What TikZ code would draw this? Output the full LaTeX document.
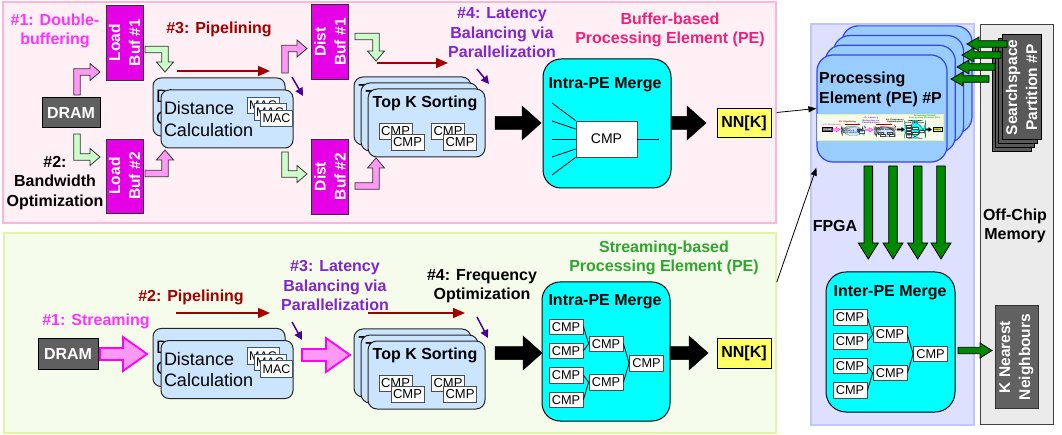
\documentclass[tikz,border=0pt]{standalone}
\usepackage{fontspec}
\setmainfont{Liberation Sans}
\usetikzlibrary{arrows.meta,calc}
\definecolor{pinkbg}{HTML}{FFF0F5}
\definecolor{pinkbd}{HTML}{FFB6D5}
\definecolor{greenbg}{HTML}{F6FCEB}
\definecolor{greenbd}{HTML}{E2F5A5}
\definecolor{mag}{HTML}{E600E6}
\definecolor{magline}{HTML}{FF00FF}
\definecolor{cyanfill}{HTML}{00FFFF}
\definecolor{magtxt}{HTML}{FF33FF}
\definecolor{pinkfill}{HTML}{FF99F5}
\definecolor{lgreen}{HTML}{CCFFCC}
\definecolor{cardblue}{HTML}{CCE5FF}
\definecolor{dramgray}{HTML}{5F5F5F}
\definecolor{darkred}{HTML}{A00000}
\definecolor{purptxt}{HTML}{7F26CC}
\definecolor{purpdark}{HTML}{4B0096}
\definecolor{titlepink}{HTML}{F0207A}
\definecolor{titlegreen}{HTML}{2EA62E}
\definecolor{fpgabg}{HTML}{DDE1FF}
\definecolor{fpgabd}{HTML}{BFC6FA}
\definecolor{pebg}{HTML}{99CCFF}
\definecolor{pebd}{HTML}{3344EE}
\definecolor{dgreen}{HTML}{008A00}
\definecolor{offchipbg}{HTML}{EBEBEB}
\definecolor{ssgray}{HTML}{595959}
\definecolor{nnyellow}{HTML}{FFFF66}
\definecolor{macbd}{HTML}{3C5A78}
\newcommand\lwf{1}
\tikzset{
  lbl/.style={font=\bfseries\fontsize{16}{19.5}\selectfont, align=center, inner sep=0pt},
  card/.style={draw=black!85, fill=cardblue, rounded corners=8pt, line width={1pt*\lwf}, inner sep=0pt},
  dccard/.style={card, minimum height=58pt, text width=126pt, inner xsep=3pt, align=left, font=\fontsize{18}{21.5}\selectfont},
  tkcard/.style={card, rounded corners=9pt, minimum width=117pt, minimum height=68pt},
  macbox/.style={draw=macbd, fill=white, line width={0.9pt*\lwf}, minimum width=32pt, minimum height=16.5pt, inner sep=0pt, font=\fontsize{12.5}{14}\selectfont},
  cmp/.style={draw=black!70, fill=white, line width={0.8pt*\lwf}, minimum width=33pt, minimum height=16pt, inner sep=0pt, font=\fontsize{13}{14}\selectfont},
  scmp/.style={cmp, minimum width=34pt, minimum height=15.5pt, font=\fontsize{12.75}{14}\selectfont},
  dram/.style={draw=black, fill=dramgray, text=white, font=\bfseries\fontsize{16}{19}\selectfont, minimum width=58pt, minimum height=30pt, inner sep=0pt, line width={1pt*\lwf}},
  buf/.style={draw=black!80, fill=mag, text=white, font=\bfseries\fontsize{15.5}{20}\selectfont, rotate=90, align=center, minimum width=75pt, minimum height=37pt, inner sep=0pt, line width=0.8pt},
  merge/.style={draw=black, fill=cyanfill, rounded corners=18pt, line width={1pt*\lwf}, inner sep=0pt},
  nn/.style={draw=black, fill=nnyellow, font=\bfseries\fontsize{16}{19}\selectfont, minimum width=54pt, minimum height=29pt, inner sep=0pt, line width={1pt*\lwf}},
  pinkarr/.style={draw=black!80, fill=pinkfill, line width=0.8pt},
  greenarr/.style={draw=black!80, fill=lgreen, line width=0.8pt},
  pinkarrS/.style={draw=magline, fill=pinkfill, line width={1.8pt*\lwf}},
  blackarr/.style={fill=black, draw=black, line width={0.5pt*\lwf}},
  greenD/.style={fill=dgreen, draw=black, line width=0.8pt},
  redarr/.style={draw=darkred, line width={1.8pt*\lwf}, -{Triangle[length=12pt,width=10pt,scale=\lwf]}},
  purpa/.style={draw=purpdark, line width={1.5pt*\lwf}, -{Triangle[length=8pt,width=8pt,scale=\lwf]}},
  thinarr/.style={draw=black, line width=0.8pt, -{Triangle[length=8pt,width=6pt]}},
  cline/.style={draw=black, line width={0.8pt*\lwf}},
  pecardst/.style={draw=pebd, fill=pebg, line width=1.2pt, rounded corners=16pt, minimum width=130pt, minimum height=107pt, inner sep=0pt},
  sscard/.style={draw=black, fill=ssgray, line width=1pt, rotate=90, minimum width=105pt, minimum height=39pt, inner sep=0pt, text=white, align=center, font=\bfseries\fontsize{15.5}{20}\selectfont},
}
% straight block arrows: style, tail, tip, axis, shaft half, head half, head length
\newcommand\arrR[7]{\draw[#1] (#2,{#4-#5}) -- ({#3-#7},{#4-#5}) -- ({#3-#7},{#4-#6}) -- (#3,#4) -- ({#3-#7},{#4+#6}) -- ({#3-#7},{#4+#5}) -- (#2,{#4+#5}) -- cycle;}
\newcommand\arrL[7]{\draw[#1] (#2,{#4-#5}) -- ({#3+#7},{#4-#5}) -- ({#3+#7},{#4-#6}) -- (#3,#4) -- ({#3+#7},{#4+#6}) -- ({#3+#7},{#4+#5}) -- (#2,{#4+#5}) -- cycle;}
\newcommand\arrD[7]{\draw[#1] ({#4-#5},#2) -- ({#4-#5},{#3-#7}) -- ({#4-#6},{#3-#7}) -- (#4,#3) -- ({#4+#6},{#3-#7}) -- ({#4+#5},{#3-#7}) -- ({#4+#5},#2) -- cycle;}
% bent block arrows
\newcommand\bUR[5]{\draw[#1] ({#2-3.2},#3) -- ({#2-3.2},{#4-3.2}) -- ({#5-10},{#4-3.2}) -- ({#5-10},{#4-8.5}) -- (#5,#4) -- ({#5-10},{#4+8.5}) -- ({#5-10},{#4+3.2}) -- ({#2+3.2},{#4+3.2}) -- ({#2+3.2},#3) -- cycle;}
\newcommand\bDR[5]{\draw[#1] ({#2-3.2},#3) -- ({#2-3.2},{#4+3.2}) -- ({#5-10},{#4+3.2}) -- ({#5-10},{#4+8.5}) -- (#5,#4) -- ({#5-10},{#4-8.5}) -- ({#5-10},{#4-3.2}) -- ({#2+3.2},{#4-3.2}) -- ({#2+3.2},#3) -- cycle;}
\newcommand\bRD[5]{\draw[#1] (#3,{#2-3.2}) -- ({#4+3.2},{#2-3.2}) -- ({#4+3.2},{#5-10}) -- ({#4+8.5},{#5-10}) -- (#4,#5) -- ({#4-8.5},{#5-10}) -- ({#4-3.2},{#5-10}) -- ({#4-3.2},{#2+3.2}) -- (#3,{#2+3.2}) -- cycle;}
\newcommand\bRU[5]{\draw[#1] (#3,{#2+3.2}) -- ({#4+3.2},{#2+3.2}) -- ({#4+3.2},{#5+10}) -- ({#4+8.5},{#5+10}) -- (#4,#5) -- ({#4-8.5},{#5+10}) -- ({#4-3.2},{#5+10}) -- ({#4-3.2},{#2-3.2}) -- (#3,{#2-3.2}) -- cycle;}
% distance calculation stack
\newcommand\dcstack[3]{%
  \node[dccard] (#1dcb) at ({#2-8},{#3-12}) {Distance\\Calculation};
  \node[dccard] (#1dc) at (#2,#3) {Distance\\Calculation};
  \node[macbox] (#1mac1) at ({#2+36},{#3-13.5}) {MAC};
  \node[macbox] (#1mac2) at ({#2+43},{#3-7}) {MAC};
  \node[macbox] (#1mac3) at ({#2+49.5},{#3-0.5}) {MAC};
}
% top k stack
\newcommand\topkstack[3]{%
  \node[tkcard] (#1tk3) at ({#2-14},{#3-12}) {};
  \node[lbl] (#1tk3t) at ({#2-15.5},{#3-31.5}) {Top K Sorting};
  \node[tkcard] (#1tk2) at ({#2-7},{#3-6}) {};
  \node[lbl] (#1tk2t) at ({#2-8.5},{#3-25.5}) {Top K Sorting};
  \node[tkcard] (#1tk1) at (#2,#3) {};
  \node[lbl] (#1tk1t) at ({#2-1.5},{#3-19.5}) {Top K Sorting};
  \node[cmp] (#1k1) at ({#2-31},{#3+8.5}) {CMP};
  \node[cmp] (#1k2) at ({#2-19},{#3+19.5}) {CMP};
  \node[cmp] (#1k3) at ({#2+21.5},{#3+8.5}) {CMP};
  \node[cmp] (#1k4) at ({#2+33.5},{#3+19.5}) {CMP};
}
% merge tree of CMPs
\newcommand\mergetree[3]{%
  \node[scmp] (#1a) at (#2,#3) {CMP};
  \node[scmp] (#1b) at (#2,{#3+24}) {CMP};
  \node[scmp] (#1c) at (#2,{#3+48.5}) {CMP};
  \node[scmp] (#1d) at (#2,{#3+73}) {CMP};
  \node[scmp] (#1e) at ({#2+40},{#3+17}) {CMP};
  \node[scmp] (#1f) at ({#2+40},{#3+55.5}) {CMP};
  \node[scmp] (#1g) at ({#2+80.5},{#3+36.5}) {CMP};
  \draw[cline] (#1a.east) -- (#1e.west);
  \draw[cline] (#1b.east) -- (#1e.west);
  \draw[cline] (#1c.east) -- (#1f.west);
  \draw[cline] (#1d.east) -- (#1f.west);
  \draw[cline] (#1e.east) -- (#1g.west);
  \draw[cline] (#1f.east) -- (#1g.west);
}
% streaming-based PE panel
\newcommand\streamPE[1]{%
  \node[draw=greenbd, fill=greenbg, line width={1.5pt*\lwf}, minimum width=772pt, minimum height=200pt, inner sep=0pt] (#1panel) at (390,333) {};
  \node[lbl, text=magtxt] (#1l1) at (96,321) {\#1: Streaming};
  \node[dram, minimum width=60pt, minimum height=31pt] (#1dram) at (68,353.5) {DRAM};
  \arrR{pinkarrS}{100}{147}{354}{6}{17}{24}
  \dcstack{#1}{227}{369.5}
  \node[lbl, text=darkred] (#1l2) at (191,297) {\#2: Pipelining};
  \draw[redarr] (176,313) -- (270,313);
  \node[lbl, text=purptxt] (#1l3) at (335,285.5) {\#3: Latency\\Balancing via\\Parallelization};
  \draw[purpa] (292,322) -- (302,340);
  \arrR{pinkarrS}{302}{350}{355}{6}{17}{24}
  \topkstack{#1}{426.5}{375}
  \draw[redarr] (368,313) -- (465,313);
  \draw[purpa] (477,317) -- (488,338);
  \node[lbl] (#1l4) at (482,286) {\#4: Frequency\\Optimization};
  \arrR{blackarr}{495}{542}{353}{6.5}{17}{19}
  \node[merge, minimum width=128pt, minimum height=139pt] (#1ipm) at (606,351.5) {};
  \node[lbl] (#1ipmt) at (605,302) {Intra-PE Merge};
  \mergetree{#1m}{566}{326.7}
  \arrR{blackarr}{670}{708}{353}{6.5}{17}{19}
  \node[nn, minimum height=30pt] (#1nn) at (744,353) {NN[K]};
  \node[lbl, text=titlegreen] (#1l5) at (664,258) {Streaming-based\\Processing Element (PE)};
}
\begin{document}
\begin{tikzpicture}[x=1pt,y=-1pt]
\useasboundingbox (0,0) rectangle (1062,435);
% ---------- panels ----------
\node[draw=pinkbd, fill=pinkbg, line width=1.5pt, minimum width=773pt, minimum height=221pt, inner sep=0pt] (bufpanel) at (389.5,112.5) {};
\node[draw=fpgabd, fill=fpgabg, line width=1.2pt, minimum width=163pt, minimum height=401pt, inner sep=0pt] (fpga) at (892.5,224.5) {};
\node[draw=black!75, fill=offchipbg, line width=1pt, minimum width=73pt, minimum height=399pt, inner sep=0pt] (offchip) at (1016.5,224.5) {};
% ---------- buffer-based PE ----------
\node[lbl, text=magtxt] (t1) at (55,31) {\#1: Double-\\buffering};
\node[dram] (dram1) at (71,113) {DRAM};
\node[buf] (lb1) at (124.5,42.5) {Load\\Buf \#1};
\node[buf, minimum width=74pt] (lb2) at (124.5,176) {Load\\Buf \#2};
\node[lbl] (t2) at (55,183) {\#2:\\Bandwidth\\Optimization};
\node[lbl, text=darkred] (t3) at (219,29) {\#3: Pipelining};
\draw[redarr] (177,71) -- (270,71);
\bUR{pinkarr}{77}{95}{72}{100}
\bDR{greenarr}{77}{134}{157}{100}
\bRD{greenarr}{49.5}{145}{165}{72}
\bRU{pinkarr}{173.5}{145}{165}{150}
\dcstack{a}{227}{119}
\bUR{pinkarr}{285}{73}{48.5}{307}
\bDR{greenarr}{285}{152}{174}{307}
\node[buf] (db1) at (330,42) {Dist\\Buf \#1};
\node[buf] (db2) at (330,176.5) {Dist\\Buf \#2};
\bRD{greenarr}{36.5}{355}{376}{61}
\bRU{pinkarr}{186}{355}{376}{158}
\draw[purpa] (292,77) -- (303,96);
\topkstack{a}{426.5}{123}
\draw[redarr] (377,63) -- (448,63);
\draw[purpa] (477,69) -- (489,84);
\node[lbl, text=purptxt] (t4) at (502,33) {\#4: Latency\\Balancing via\\Parallelization};
\arrR{blackarr}{495}{541}{123}{6.5}{17}{19}
\node[merge, minimum width=128pt, minimum height=129pt] (ipm1) at (607,123.5) {};
\node[lbl] (ipm1t) at (605,85) {Intra-PE Merge};
\node[cmp, minimum width=61pt, minimum height=36pt, font=\fontsize{14}{16}\selectfont] (bigcmp) at (606.5,139) {CMP};
\draw[cline] (552,103) -- (bigcmp.north west);
\draw[cline] (552,121) -- ($(bigcmp.west)+(0,-10)$);
\draw[cline] (552,139) -- (bigcmp.west);
\draw[cline] (552,157) -- ($(bigcmp.west)+(0,10)$);
\draw[cline] (552,175) -- (bigcmp.south west);
\draw[cline] (bigcmp.east) -- ++(22,0);
\arrR{blackarr}{671}{706}{123}{6.5}{17}{19}
\node[nn] (nn1) at (744,123.5) {NN[K]};
\node[lbl, text=titlepink] (t5) at (670,30) {Buffer-based\\Processing Element (PE)};
% ---------- streaming-based PE ----------
\streamPE{s}
% ---------- FPGA side ----------
\node[pecardst] (pe4) at (907,79.4) {};
\node[pecardst] (pe3) at (898.6,89.1) {};
\node[pecardst] (pe2) at (890.3,98.8) {};
\node[pecardst] (pe1) at (882,108.5) {};
\node[lbl, align=left, anchor=west] (petxt) at (819,89.5) {Processing\\Element (PE) \#P};
\begin{scope}[shift={(816.3,83.6)}, xscale=0.163, yscale=0.13, transform shape]
\renewcommand\lwf{0.15}
\streamPE{t}
\end{scope}
\node[sscard] (ss4) at (1011.5,99.5) {};
\node[sscard] (ss3) at (1014.8,95.5) {};
\node[sscard] (ss2) at (1018.1,91.5) {};
\node[sscard] (ss1) at (1021.5,87.5) {Searchspace\\Partition \#P};
\arrL{greenD}{1007}{967}{44}{3.3}{7}{12}
\arrL{greenD}{1001}{962}{55}{3.3}{7}{12}
\arrL{greenD}{995}{957}{67}{3.3}{7}{12}
\arrL{greenD}{989}{951}{79}{3.3}{7}{12}
\arrD{greenD}{166}{259}{868.3}{4.3}{10}{16}
\arrD{greenD}{166}{259}{893}{4.3}{10}{16}
\arrD{greenD}{166}{259}{917.7}{4.3}{10}{16}
\arrD{greenD}{166}{259}{941}{4.3}{10}{16}
\node[lbl] (fpgat) at (835,226) {FPGA};
\node[lbl] (offt) at (1015,226) {Off-Chip\\Memory};
\node[merge, rounded corners=20pt, minimum width=129pt, minimum height=140pt] (inter) at (890.5,342) {};
\node[lbl] (intert) at (890,293) {Inter-PE Merge};
\mergetree{i}{850}{317.5}
\arrR{greenD}{958}{992}{350.5}{3.2}{7.5}{12}
\node[sscard, draw=black!80, fill=ssgray!95, minimum width=102pt, minimum height=43pt] (knn) at (1016.5,357) {K Nearest\\Neighbours};
% ---------- connectors to the FPGA ----------
\draw[thinarr] (bufpanel.east) -- (pe1.west);
\coordinate (sp) at ($(spanel.north east)+(0,50)$);
\draw[thinarr] (sp) -- ($(pe1.south west)+(0,5)$);
\end{tikzpicture}
\end{document}
